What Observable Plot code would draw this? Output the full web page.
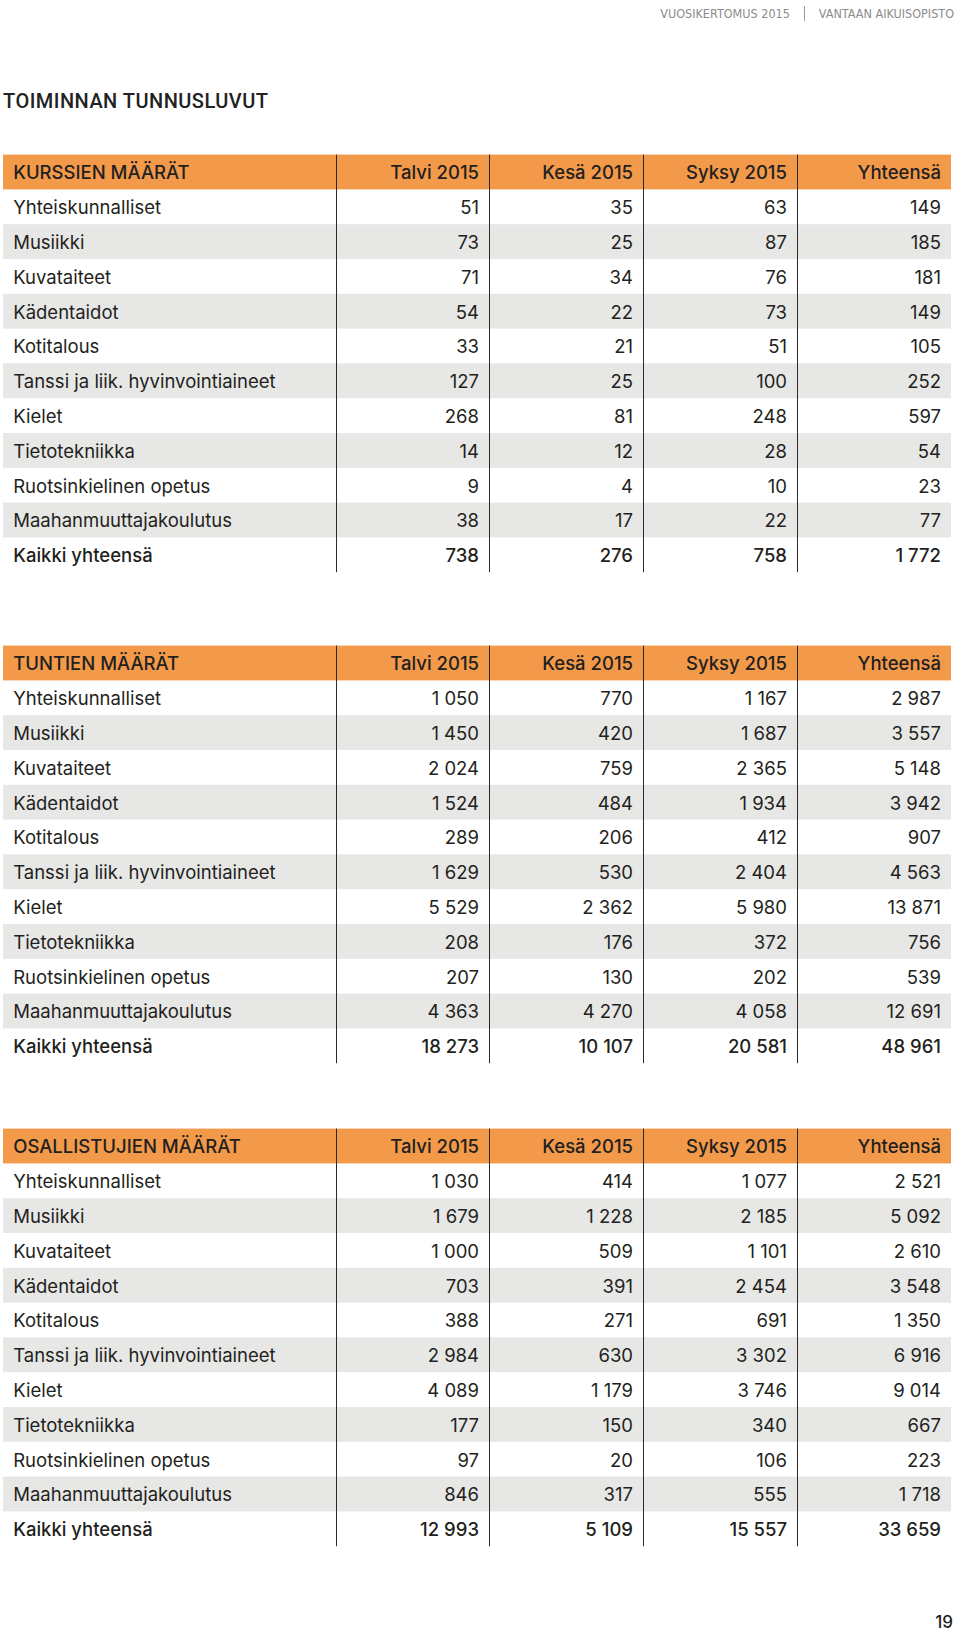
<!DOCTYPE html>
<html>
<head>
<meta charset="utf-8">
<script src="https://cdn.jsdelivr.net/npm/d3@7"></script>
<script src="https://cdn.jsdelivr.net/npm/@observablehq/plot@0.6"></script>
<style>
  body { margin: 0; background: #fff; }
  #page { position: relative; width: 960px; height: 1640px; overflow: hidden; background: #fff; }
  #page svg { position: absolute; left: 0; top: 0; }
  .runhead { position: absolute; top: 6px; right: 6px; font-family: "Liberation Sans Narrow", "DejaVu Sans Condensed", sans-serif; font-size: 12.5px; color: #8c8c8c; white-space: nowrap; }
  .runhead .sep { display: inline-block; width: 1px; height: 15px; background: #9a9a9a; margin: 0 14px; vertical-align: -3px; }
  .title { position: absolute; left: 3px; top: 90.5px; margin: 0; line-height: 20px; font-family: Roboto, sans-serif; font-size: 20px; font-weight: 500; color: #222; white-space: nowrap; }
  .pageno { position: absolute; right: 7px; top: 1614px; line-height: 17px; font-family: Inter, sans-serif; font-size: 17px; font-weight: 500; color: #222; }
</style>
</head>
<body>
<div id="page">
  <div class="runhead">VUOSIKERTOMUS 2015<span class="sep"></span>VANTAAN AIKUISOPISTO</div>
  <h1 class="title" id="title">TOIMINNAN TUNNUSLUVUT</h1>
  <div class="pageno">19</div>
</div>
<script>
// ---------- DATA ----------
const tableTitles = ["KURSSIEN MÄÄRÄT", "TUNTIEN MÄÄRÄT", "OSALLISTUJIEN MÄÄRÄT"];
const periods = ["Talvi 2015", "Kesä 2015", "Syksy 2015", "Yhteensä"];
const categories = [
  "Yhteiskunnalliset", "Musiikki", "Kuvataiteet", "Kädentaidot", "Kotitalous",
  "Tanssi ja liik. hyvinvointiaineet", "Kielet", "Tietotekniikka",
  "Ruotsinkielinen opetus", "Maahanmuuttajakoulutus"
];
const totalLabel = "Kaikki yhteensä";

const kurssienMaarat = [
  [51, 35, 63, 149], [73, 25, 87, 185], [71, 34, 76, 181], [54, 22, 73, 149],
  [33, 21, 51, 105], [127, 25, 100, 252], [268, 81, 248, 597], [14, 12, 28, 54],
  [9, 4, 10, 23], [38, 17, 22, 77]
];
const kurssienYhteensa = [738, 276, 758, 1772];

const tuntienMaarat = [
  [1050, 770, 1167, 2987], [1450, 420, 1687, 3557], [2024, 759, 2365, 5148],
  [1524, 484, 1934, 3942], [289, 206, 412, 907], [1629, 530, 2404, 4563],
  [5529, 2362, 5980, 13871], [208, 176, 372, 756], [207, 130, 202, 539],
  [4363, 4270, 4058, 12691]
];
const tuntienYhteensa = [18273, 10107, 20581, 48961];

const osallistujienMaarat = [
  [1030, 414, 1077, 2521], [1679, 1228, 2185, 5092], [1000, 509, 1101, 2610],
  [703, 391, 2454, 3548], [388, 271, 691, 1350], [2984, 630, 3302, 6916],
  [4089, 1179, 3746, 9014], [177, 150, 340, 667], [97, 20, 106, 223],
  [846, 317, 555, 1718]
];
const osallistujienYhteensa = [12993, 5109, 15557, 33659];

const tableValues = [kurssienMaarat, tuntienMaarat, osallistujienMaarat];
const tableTotals = [kurssienYhteensa, tuntienYhteensa, osallistujienYhteensa];

// ---------- LAYOUT ----------
const tableTop = [154.6, 645.6, 1128.6];
const rowH = 34.8;
const leftEdge = 3, rightEdge = 951;
const colEdges = [leftEdge, 336, 489, 643, 797, rightEdge];
const labelPad = 9.7, numPad = 10.5;
const ORANGE = "#f29a4a", GRAY = "#e7e7e6", INK = "#231f20";
const FONT = "Inter, sans-serif";
const FS = 18.5;

const fmt = d3.formatLocale({decimal: ",", thousands: "\u00a0", grouping: [3], currency: ["", " €"]}).format(",d");

// build table structures
const headerBands = [], grayBands = [], dividers = [];
const titleCells = [], periodCells = [], labelCells = [], numCells = [], totalLabelCells = [], totalNumCells = [];
tableTitles.forEach((title, t) => {
  const top = tableTop[t];
  const nRows = categories.length + 1;
  headerBands.push({y1: top, y2: top + rowH});
  titleCells.push({x: leftEdge + labelPad, y: top + rowH / 2, text: title});
  periods.forEach((p, c) => periodCells.push({x: colEdges[c + 2] - numPad, y: top + rowH / 2, text: p}));
  categories.forEach((cat, i) => {
    const y1 = top + rowH * (i + 1);
    if (i % 2 === 1) grayBands.push({y1, y2: y1 + rowH});
    labelCells.push({x: leftEdge + labelPad, y: y1 + rowH / 2, text: cat});
    tableValues[t][i].forEach((v, c) => numCells.push({x: colEdges[c + 2] - numPad, y: y1 + rowH / 2, text: fmt(v)}));
  });
  const ty = top + rowH * (categories.length + 1);
  totalLabelCells.push({x: leftEdge + labelPad, y: ty + rowH / 2, text: totalLabel});
  tableTotals[t].forEach((v, c) => totalNumCells.push({x: colEdges[c + 2] - numPad, y: ty + rowH / 2, text: fmt(v)}));
  for (let c = 1; c <= 4; c++) dividers.push({x: colEdges[c], y1: top, y2: top + rowH * (nRows + 1)});
});

const common = {x: "x", y: "y", text: "text", fill: INK, fontFamily: FONT, fontSize: FS, dy: 1};
const chart = Plot.plot({
  width: 960,
  height: 1640,
  margin: 0,
  x: {type: "linear", domain: [0, 960], range: [0, 960], axis: null},
  y: {type: "linear", domain: [0, 1640], range: [0, 1640], axis: null},
  style: {background: "transparent", fontFamily: FONT},
  marks: [
    Plot.rect(headerBands, {x1: leftEdge, x2: rightEdge, y1: "y1", y2: "y2", fill: ORANGE}),
    Plot.rect(grayBands, {x1: leftEdge, x2: rightEdge, y1: "y1", y2: "y2", fill: GRAY}),
    Plot.ruleX(dividers, {x: "x", y1: "y1", y2: "y2", stroke: "#2a2a2a", strokeWidth: 1}),
    Plot.text(titleCells, {...common, textAnchor: "start", fontWeight: 500, ariaLabel: "table-titles"}),
    Plot.text(periodCells, {...common, textAnchor: "end", fontWeight: 500, ariaLabel: "period-labels"}),
    Plot.text(labelCells, {...common, textAnchor: "start", fontWeight: 400, ariaLabel: "row-labels"}),
    Plot.text(numCells, {...common, textAnchor: "end", fontWeight: 400, ariaLabel: "values"}),
    Plot.text(totalLabelCells, {...common, textAnchor: "start", fontWeight: 500, ariaLabel: "total-labels"}),
    Plot.text(totalNumCells, {...common, textAnchor: "end", fontWeight: 500, ariaLabel: "total-values"})
  ]
});
d3.select(chart).selectAll('g[aria-label="row-labels"] text, g[aria-label="total-labels"] text').style("letter-spacing", "0.38px");
d3.select(chart).selectAll('g[aria-label="table-titles"] text').style("letter-spacing", "-0.4px");
document.getElementById("page").prepend(chart);

// fit the page title to the reference width
const titleEl = document.getElementById("title");
const targetW = 265;
const w0 = titleEl.getBoundingClientRect().width;
const n = titleEl.textContent.length;
titleEl.style.letterSpacing = ((targetW - w0) / (n - 1)) + "px";
</script>
</body>
</html>
